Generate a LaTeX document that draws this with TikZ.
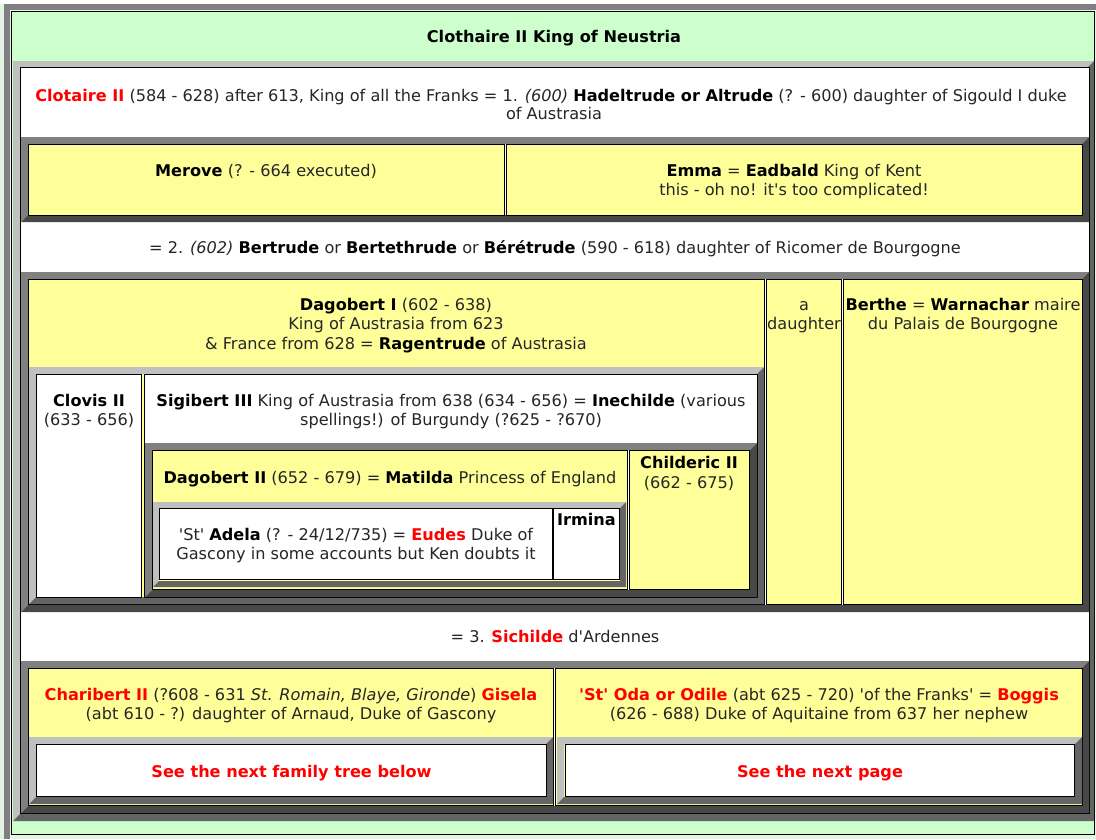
\documentclass[tikz,border=0pt]{standalone}
\usepackage{fontspec}
\newfontfamily\vf{DejaVu Sans}
\definecolor{grn}{HTML}{CCFFCC}
\definecolor{ylw}{HTML}{FFFF99}
\definecolor{lgr}{HTML}{C0C0C0}
\definecolor{mgr}{HTML}{808080}
\definecolor{dgr}{HTML}{484848}
\definecolor{dtwo}{HTML}{646464}
\definecolor{txt}{HTML}{262626}
\definecolor{pagebg}{HTML}{E6F2E6}
\definecolor{hred}{HTML}{FF0000}
\newcommand{\fsz}{\fontsize{12.1pt}{14pt}\selectfont}
\newcommand{\PN}[1]{{\bfseries\color{black}#1}}
\newcommand{\PR}[1]{{\bfseries\color{hred}#1}}
% bevelled table frame: x1 y1 x2 y2 width light dark
\newcommand{\bevel}[7]{%
 \fill[#6] (#1,#2) -- (#3,#2) -- ({#3-#5},{#2+#5}) -- ({#1+#5},{#2+#5}) -- ({#1+#5},{#4-#5}) -- (#1,#4) -- cycle;
 \fill[#7] (#3,#2) -- (#3,#4) -- (#1,#4) -- ({#1+#5},{#4-#5}) -- ({#3-#5},{#4-#5}) -- ({#3-#5},{#2+#5}) -- cycle;}
% table cell: x1 y1 x2 y2 fill
\newcommand{\tcell}[5]{\filldraw[fill=#5,draw=black,line width=0.75pt] ({#1+0.5},{#2+0.5}) rectangle ({#3-0.5},{#4-0.5});}
\tikzset{tx/.style={anchor=base,inner sep=0pt,text=txt,font=\vf\fsz}}
\begin{document}
\begin{tikzpicture}[x=0.75pt,y=-0.75pt]
\useasboundingbox (0,0) rectangle (1096,839);
\fill[pagebg] (0,0) rectangle (1096,839);
\fill[white] (0,0) rectangle (1096,4);
\fill[mgr] (4,4) rectangle (1096,10);
\fill[mgr] (4,4) rectangle (10,839);
% outer green cell
\tcell{11}{11}{1095}{835}{grn}
\node[tx] (title) at (554,42) {\PN{Clothaire II King of Neustria}};
% inner table
\bevel{13}{61}{1094}{821}{7}{lgr}{dtwo}
\tcell{20}{67}{1090}{814}{white}
% row 1
\node[tx] (r1a) at (551,101) {\PR{Clotaire II} (584 - 628) after 613, King of all the Franks = 1. \textit{(600)} \PN{Hadeltrude or Altrude} (? - 600) daughter of Sigould I duke};
\node[tx] (r1b) at (554,119) {of Austrasia};
% row 2
\bevel{21}{137}{1089}{222}{7}{mgr}{dgr}
\tcell{28}{144}{505}{216}{ylw}
\tcell{506}{144}{1083}{216}{ylw}
\node[tx] (merove) at (266,176) {\PN{Merove} (? - 664 executed)};
\node[tx] (emmaa) at (794,176) {\PN{Emma} = \PN{Eadbald} King of Kent};
\node[tx] (emmab) at (794,195) {this - oh no! it's too complicated!};
% row 3
\node[tx] (r3) at (555,253) {= 2. \textit{(602)} \PN{Bertrude} or \PN{Bertethrude} or \PN{Bérétrude} (590 - 618) daughter of Ricomer de Bourgogne};
% row 4
\bevel{21}{272}{1089}{612}{7}{mgr}{dgr}
\tcell{28}{279}{765}{605}{ylw}
\tcell{766}{279}{842}{605}{ylw}
\tcell{843}{279}{1083}{605}{ylw}
\node[tx] (daga) at (396,310) {\PN{Dagobert I} (602 - 638)};
\node[tx] (dagb) at (396,329) {King of Austrasia from 623};
\node[tx] (dagc) at (396,349) {\& France from 628 = \PN{Ragentrude} of Austrasia};
\node[tx] (dauga) at (804,310) {a};
\node[tx] (daugb) at (804,329) {daughter};
\node[tx] (bera) at (963,310) {\PN{Berthe} = \PN{Warnachar} maire};
\node[tx] (berb) at (963,329) {du Palais de Bourgogne};
% level 2
\bevel{29}{367}{764}{604}{7}{lgr}{dtwo}
\tcell{36}{374}{142}{598}{white}
\tcell{144}{374}{758}{598}{white}
\node[tx] (clova) at (89,406) {\PN{Clovis II}};
\node[tx] (clovb) at (89,425) {(633 - 656)};
\node[tx] (siga) at (451,406) {\PN{Sigibert III} King of Austrasia from 638 (634 - 656) = \PN{Inechilde} (various};
\node[tx] (sigb) at (451,425) {spellings!) of Burgundy (?625 - ?670)};
% level 3
\bevel{145}{443}{757}{597}{7}{mgr}{dgr}
\tcell{152}{450}{628}{590}{ylw}
\tcell{629}{450}{750}{590}{ylw}
\node[tx] (dag2) at (390,483) {\PN{Dagobert II} (652 - 679) = \PN{Matilda} Princess of England};
\node[tx] (chila) at (689,468) {\PN{Childeric II}};
\node[tx] (chilb) at (689,488) {(662 - 675)};
% level 4
\bevel{153}{502}{626}{587}{6}{lgr}{dtwo}
\tcell{159}{508}{553}{580}{white}
\tcell{553}{508}{620}{580}{white}
\node[tx] (adela) at (356,540) {'St' \PN{Adela} (? - 24/12/735) = \PR{Eudes} Duke of};
\node[tx] (adelb) at (356,559) {Gascony in some accounts but Ken doubts it};
\node[tx] (irmina) at (586.5,525) {\PN{Irmina}};
% row 5
\node[tx] (r5) at (555,642) {= 3. \PR{Sichilde} d'Ardennes};
% row 6
\bevel{21}{661}{1089}{813}{7}{mgr}{dgr}
\tcell{28}{668}{554}{806}{ylw}
\tcell{555}{668}{1083}{806}{ylw}
\node[tx] (chara) at (291,700) {\PR{Charibert II} (?608 - 631 \textit{St. Romain, Blaye, Gironde}) \PR{Gisela}};
\node[tx] (charb) at (291,719) {(abt 610 - ?) daughter of Arnaud, Duke of Gascony};
\node[tx] (odaa) at (819,700) {\PR{'St' Oda or Odile} (abt 625 - 720) 'of the Franks' = \PR{Boggis}};
\node[tx] (odab) at (819,719) {(626 - 688) Duke of Aquitaine from 637 her nephew};
\bevel{29}{737}{553}{804}{7}{lgr}{dtwo}
\tcell{36}{744}{547}{797}{white}
\bevel{557}{737}{1082}{804}{7}{lgr}{dtwo}
\tcell{565}{744}{1075}{797}{white}
\node[tx] (nexta) at (291.5,777) {\PR{See the next family tree below}};
\node[tx] (nextb) at (820,777) {\PR{See the next page}};
\end{tikzpicture}
\end{document}
